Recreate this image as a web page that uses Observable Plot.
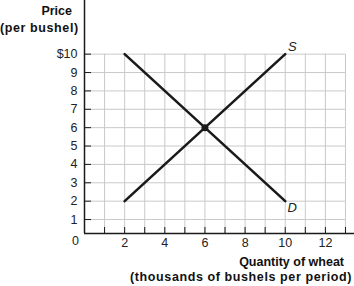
<!DOCTYPE html>
<html>
<head>
<meta charset="utf-8">
<script src="https://cdn.jsdelivr.net/npm/d3@7"></script>
<script src="https://cdn.jsdelivr.net/npm/@observablehq/plot@0.6"></script>
<style>
  html, body { margin: 0; padding: 0; background: #fff; }
  #chart { position: relative; width: 354px; height: 286px; font-family: "Liberation Sans", Arial, sans-serif; color: #111; }
  #chart svg { position: absolute; left: 0; top: 0; }
  .lab { position: absolute; font-weight: bold; font-size: 12.5px; line-height: 15px; white-space: nowrap; }
  .wide { letter-spacing: 0.6px; }
</style>
</head>
<body>
<div id="chart">
  <div class="lab" style="right: 282px; top: 4px;">Price</div>
  <div class="lab wide" style="left: 0px; top: 21px;">(per bushel)</div>
  <div class="lab" style="right: 10px; top: 255px;">Quantity of wheat</div>
  <div class="lab wide" style="right: 2px; top: 270px;">(thousands of bushels per period)</div>
</div>
<script>
// Supply and demand for wheat
const supplyQty   = [2, 10];
const supplyPrice = [2, 10];
const demandQty   = [2, 10];
const demandPrice = [10, 2];
const equilibrium = [{q: 6, p: 6}];

const supplyLabel = [{q: 10, p: 10, name: "S"}];
const demandLabel = [{q: 10, p: 2, name: "D"}];

const priceTicks = [1, 2, 3, 4, 5, 6, 7, 8, 9, 10];
const priceTickLabels = ["1", "2", "3", "4", "5", "6", "7", "8", "9", "$10"];
const qtyGrid = [1, 2, 3, 4, 5, 6, 7, 8, 9, 10, 11, 12, 13];
const qtyLabels = [2, 4, 6, 8, 10, 12];

const xMax = 13.45, gridXMax = 13;
const yMin = 0.24, yMax = 12.92;

const supply = supplyQty.map((q, i) => ({q, p: supplyPrice[i]}));
const demand = demandQty.map((q, i) => ({q, p: demandPrice[i]}));

const gridColor = "#c9c9c9";
const ink = "#1a1a1a";

const plot = Plot.plot({
  width: 354,
  height: 286,
  marginLeft: 84,
  marginRight: 0,
  marginTop: 0,
  marginBottom: 53,
  style: {fontFamily: "Liberation Sans, Arial, sans-serif", fontSize: "12px", color: "#222", background: "transparent"},
  x: {domain: [0, xMax], axis: null},
  y: {domain: [yMin, yMax], axis: null},
  marks: [
    // light grid
    Plot.ruleX(qtyGrid, {y1: yMin, y2: 10, stroke: gridColor, strokeWidth: 1}),
    Plot.ruleY(priceTicks, {x1: 0, x2: gridXMax, stroke: gridColor, strokeWidth: 1}),
    // inward ticks and tick labels
    Plot.axisY(priceTicks, {anchor: "left", label: null, tickSize: -7, tickPadding: 14, tickFormat: (d, i) => priceTickLabels[i], stroke: ink, fill: "#222", fontSize: 12.5}),
    Plot.axisX(qtyGrid, {anchor: "bottom", label: null, tickSize: -6, tickFormat: () => "", stroke: ink}),
    Plot.axisX(qtyLabels, {anchor: "bottom", label: null, tickSize: 0, tickPadding: 5, fill: "#222", fontSize: 12.5}),
    Plot.text([0], {x: d => d, frameAnchor: "bottom", dx: -9, dy: 11, text: d => String(d), fill: "#222", fontSize: 12.5}),
    // axis lines
    Plot.ruleX([0], {y1: yMin, y2: yMax, stroke: ink, strokeWidth: 1.5}),
    Plot.ruleY([yMin], {x1: 0, x2: xMax, stroke: ink, strokeWidth: 1.5}),
    // curves
    Plot.line(supply, {x: "q", y: "p", stroke: ink, strokeWidth: 2.6}),
    Plot.line(demand, {x: "q", y: "p", stroke: ink, strokeWidth: 2.6}),
    Plot.dot(equilibrium, {x: "q", y: "p", r: 3.5, fill: ink}),
    Plot.text(supplyLabel, {x: "q", y: "p", text: "name", dx: 7, dy: -7, fontStyle: "italic", fontSize: 13, fill: "#222"}),
    Plot.text(demandLabel, {x: "q", y: "p", text: "name", dx: 7, dy: 7, fontStyle: "italic", fontSize: 13, fill: "#222"})
  ]
});
document.getElementById("chart").appendChild(plot);
</script>
</body>
</html>
